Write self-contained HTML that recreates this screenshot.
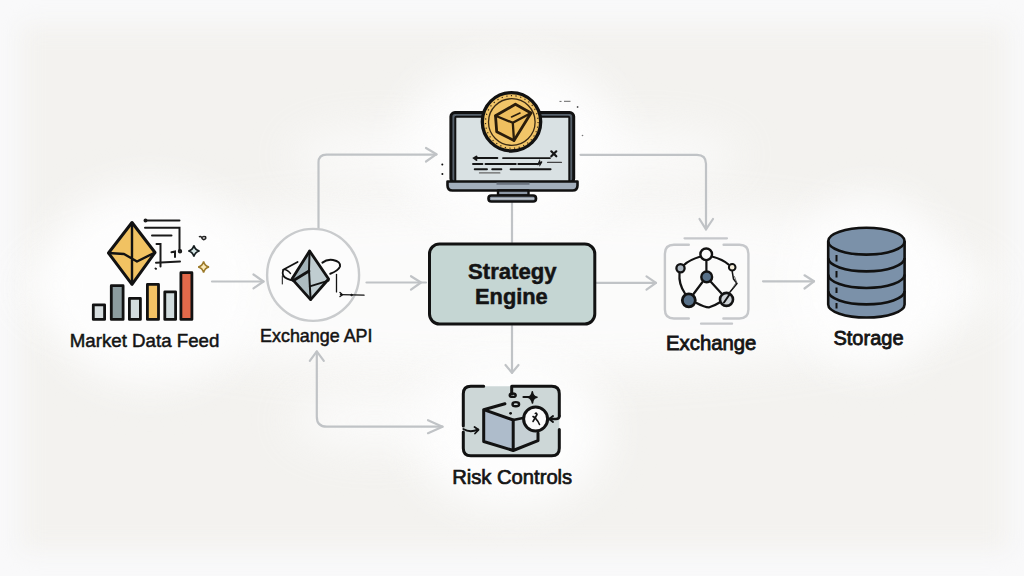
<!DOCTYPE html>
<html><head><meta charset="utf-8">
<style>
html,body{margin:0;padding:0;width:1024px;height:576px;overflow:hidden;background:#f9f9fa;}
#card{position:absolute;left:21px;top:25px;width:987px;height:525px;background:#f3f2ef;filter:blur(11px);}
.h{position:absolute;background:#fdfdfd;border-radius:50%;filter:blur(22px);}
svg{position:absolute;left:0;top:0;}
text{font-family:"Liberation Sans",sans-serif;fill:#141414;}
</style></head><body>
<div id="card"></div>
<div class="h" style="left:25px;top:200px;width:975px;height:175px;opacity:0.85"></div>
<div class="h" style="left:400px;top:60px;width:225px;height:175px;"></div>
<div class="h" style="left:410px;top:350px;width:200px;height:160px;"></div>
<div class="h" style="left:40px;top:185px;width:220px;height:200px;"></div>
<div class="h" style="left:790px;top:195px;width:160px;height:175px;"></div>
<div class="h" style="left:290px;top:130px;width:180px;height:50px;opacity:0.8"></div>
<div class="h" style="left:560px;top:130px;width:180px;height:50px;opacity:0.8"></div>
<div class="h" style="left:290px;top:390px;width:170px;height:60px;opacity:0.8"></div>
<svg width="1024" height="576" viewBox="0 0 1024 576">
<!-- connectors -->
<g fill="none" stroke="#c0c3c6" stroke-width="2.2" stroke-linecap="round" stroke-linejoin="round">
  <path d="M212 281.5H263.5"/><path d="M253.5 274.5L263.5 281.5L253.5 288.3"/>
  <path d="M366.5 282.5H426"/><path d="M411 276.2L421 282.5L411 289.6"/>
  <path d="M596.5 282.8H656"/><path d="M646.5 276.3L656 282.8L646.5 289.6"/>
  <path d="M763 281.3H814"/><path d="M804.5 275.3L814 281.3L804.5 288.5"/>
  <path d="M318.5 229V162.5Q318.5 154.6 326.5 154.6H436.5"/><path d="M426 148L436.5 154.2L426 161.5"/>
  <path d="M580.5 154.8H697Q706 154.8 706 163.8V229.4"/><path d="M699.5 219L706 229.4L713 219"/>
  <path d="M512 202.5V242"/>
  <path d="M512 326V372.8"/><path d="M505.5 365L512 372.8L518.5 365"/>
  <path d="M316.8 351.5V416.7Q316.8 426.7 326.8 426.7H442.5"/><path d="M428 420.2L442.5 426.7L428 433.2"/><path d="M309.8 360.8L316.8 351.3L323.8 360.8"/>
</g>

<!-- Market Data Feed icon -->
<g stroke="#121212" stroke-width="2.8" stroke-linejoin="round">
  <rect x="93.3" y="304.8" width="11.3" height="14.6" fill="#d6dddf"/>
  <rect x="111.3" y="285.7" width="11.8" height="33.7" fill="#8c9c9f"/>
  <rect x="129.4" y="298.4" width="11" height="21" fill="#d2dcde"/>
  <rect x="147.4" y="284.4" width="11.1" height="35" fill="#f2c265"/>
  <rect x="164.8" y="291.8" width="10.8" height="27.6" fill="#d0dbdd"/>
  <rect x="180.9" y="272.7" width="11" height="46.7" fill="#e2694a"/>
  <path d="M132 222.5L155 252.5L132 284.3L108.5 253Z" fill="#f1c262" stroke-width="3"/>
  <path d="M132 222.5V284.3M108.5 253L124 254L137 261.5L155 252.5" fill="none" stroke-width="2.4"/>
</g>
<g fill="none" stroke="#1a1a1a" stroke-width="2" stroke-linecap="round">
  <path d="M145 220.4H179.5"/><circle cx="145.5" cy="220.4" r="1" fill="#1a1a1a"/>
  <path d="M145 227.8H179.5V250"/><circle cx="180" cy="251.3" r="1.2"/>
  <path d="M152 235.4H171.5"/>
  <path d="M156.5 244H160.5V266.5"/>
  <path d="M156 262.8L180 261.5"/>
  <path d="M171.5 252.3L175 251.5V257"/>
  <path d="M155.5 268.5L156 268.8"/>
</g>
<path d="M193.9 245.5Q195 250 199.5 251Q195 252 193.9 256.5Q192.8 252 188.4 251Q192.8 250 193.9 245.5Z" fill="#d5e6e6" stroke="#141c1e" stroke-width="1.7"/>
<path d="M203.6 261.5Q204.7 266 209 267Q204.7 268 203.6 272.6Q202.5 268 198.2 267Q202.5 266 203.6 261.5Z" fill="#fbeab9" stroke="#9c7a2a" stroke-width="1.5"/>
<path d="M199 237Q200.5 235.8 201.8 237.6Q203 235.8 205.5 236.8Q206.5 239.2 203.8 239.6Q202.2 239.2 201.8 238" fill="none" stroke="#222" stroke-width="1.6"/>

<!-- Exchange API icon -->
<circle cx="313.1" cy="274.9" r="46" fill="#fcfcfc" stroke="#c9cbcd" stroke-width="2.4"/>
<g stroke="#121212" stroke-linejoin="round" stroke-linecap="round">
  <path d="M309.6 251L292 278.9L310.6 299.6L328.6 279Z" fill="#c0cdd1" stroke-width="0"/>
  <path d="M309.6 251L309 270.5L294.5 280L292 278.9Z" fill="#a3b3b9" stroke-width="0"/>
  <path d="M292 278.9L310.6 299.6L309.8 286L309 270.5L294.5 280Z" fill="#adbcc1" stroke-width="0"/>
  <path d="M297.6 262L283.2 269.8Q281.2 276.5 287 278.6Q290.5 280 293 280.5" fill="none" stroke-width="1.8"/>
  <path d="M283.2 269.8Q286 268.5 290.5 273.5" fill="none" stroke-width="1.4"/>
  <path d="M282.3 276V284" fill="none" stroke-width="1"/>
  <path d="M309.6 251L292 278.9L310.6 299.6L328.6 279Z" fill="none" stroke-width="2.8"/>
  <path d="M309.6 251L309 270.5L310.6 299.6" fill="none" stroke-width="2"/>
  <path d="M309 271L293.5 280.5" fill="none" stroke-width="2.8"/>
  <path d="M309.8 286.3L328.6 280.6" fill="none" stroke-width="1.9"/>
  <path d="M322.4 262.6Q327 259 333 260Q341 261.5 340 266.5Q338.5 270.5 330.3 273.8" fill="none" stroke-width="2"/>
  <path d="M336.5 274.4V291.9" fill="none" stroke-width="1.3"/>
  <path d="M340.4 294.7L364.1 295.2" fill="none" stroke-width="1.2"/>
  <path d="M340 292.5L342.5 294.7L340 296.5" fill="none" stroke-width="1.4"/>
  <circle cx="351.5" cy="295" r="0.8" fill="#121212" stroke-width="0.8"/>
</g>

<!-- Laptop -->
<g stroke="#111" stroke-linejoin="round">
  <rect x="450.9" y="112.6" width="122.8" height="70" rx="4" fill="#56606a" stroke="#111" stroke-width="3"/>
  <rect x="455.3" y="116.8" width="114" height="66" rx="1" fill="#d9e1e3" stroke="#111" stroke-width="2"/>
  <path d="M447.5 181.5H577.5V185.5Q577.5 190.5 572.5 190.5H452.5Q447.5 190.5 447.5 185.5Z" fill="#a2aebb" stroke-width="2.6"/>
  <rect x="496.5" y="182.6" width="33" height="2.2" fill="#6b7480" stroke-width="0"/>
  <rect x="498" y="190.5" width="30.5" height="5" fill="#8d98a6" stroke-width="2.4"/>
  <rect x="488.5" y="195.5" width="47.5" height="6" rx="2.8" fill="#8d98a6" stroke-width="2.6"/>
  <path d="M491 198.8H534" stroke="#d4d9de" stroke-width="0.9"/>
</g>
<g stroke="#151515" stroke-linecap="round" fill="none">
  <path d="M475 158.1H497.3" stroke-width="2"/><path d="M476.5 156.5L474 158.1L476.5 160" stroke-width="2"/>
  <path d="M503 158.1H550" stroke-width="1.9"/>
  <path d="M551.3 151.3L556.3 156.3M556.3 151.3L551.3 156.3" stroke-width="2.2"/>
  <path d="M473 164H482.4M485.5 164H515.8M518.3 164H538" stroke-width="1.9"/>
  <path d="M538 164.5L539.5 161.5L540 164.5L541.5 162" stroke-width="1.6"/>
  <path d="M547.6 162.4H561.4" stroke-width="1.3" stroke="#444"/>
  <path d="M474.7 169.3H487M492.2 169.3H501.4M510.6 169.3H550.6" stroke-width="1.9"/>
  <path d="M479.4 172.9H499.9" stroke-width="1.1" stroke="#666"/>
</g>
<circle cx="442.3" cy="164.4" r="1" fill="#111"/><circle cx="442.4" cy="174" r="1" fill="#111"/>
<path d="M559.5 101.4H561.5M564 101.3H570.5" stroke="#666" stroke-width="1"/>
<circle cx="577.6" cy="107" r="0.9" fill="#555"/><circle cx="582.5" cy="135.5" r="0.8" fill="#777"/>
<!-- coin -->
<circle cx="511.5" cy="121.8" r="29.2" fill="#f2c568" stroke="#121212" stroke-width="3.3"/>
<circle cx="511.8" cy="122" r="23.3" fill="none" stroke="#3a2a14" stroke-width="1.3"/>
<circle cx="511.8" cy="122" r="26.3" fill="none" stroke="#3a2a14" stroke-width="1.2" stroke-dasharray="1.2 3.5"/>
<g stroke="#2a1d0c" stroke-linejoin="round" stroke-linecap="round" fill="none">
  <path d="M515.4 104.2L531 113L514 140.5L496.7 131.7L495.5 115.8Z" fill="#efbf5f" stroke-width="2.8"/>
  <path d="M495.5 115.8L512.8 122.8L531 113M512.8 122.8L514 140.5" stroke-width="2.3"/>
  <path d="M511.5 117L520 113" stroke-width="1.6"/>
</g>

<!-- Exchange icon -->
<g fill="none" stroke="#c6c8cb" stroke-width="2.4" stroke-linecap="round">
  <path d="M688.8 244.7H673.9Q664.9 244.7 664.9 253.7V309.5Q664.9 318.5 673.9 318.5H688.8"/>
  <path d="M723.6 244.7H739.4Q748.4 244.7 748.4 253.7V309.5Q748.4 318.5 739.4 318.5H723.4"/>
  <path d="M684.5 238.3H727" stroke-width="2.2"/>
  <path d="M701 323.7H732.1" stroke-width="2.2"/>
</g>
<g stroke="#121212" stroke-linejoin="round" stroke-linecap="round" fill="none" stroke-width="2.2">
  <path d="M700.5 256.5Q689 260 684 265M712 256.5Q723 259.5 728.5 264.5"/>
  <path d="M706.4 261V270.5"/>
  <path d="M702.5 282L693.5 294M711 282L721.5 293.5"/>
  <path d="M679.5 273.5Q678.5 284 685 293.5"/>
  <path d="M696.5 303Q705 307.5 709.3 307.3Q715 305.5 719.5 302.5"/>
  <path d="M732.2 271.5L733.5 279L737 283.5L730 292" stroke-width="1.5"/>
  <path d="M734.5 276.5L736.5 282L733 287.5" stroke-width="0.9" stroke="#666"/>
  <circle cx="706.2" cy="254.3" r="5.8" fill="#fbfbfb" stroke-width="2.4"/>
  <circle cx="680.5" cy="268.2" r="4.1" fill="#a9b4be" stroke-width="2.3"/>
  <circle cx="706.7" cy="276.9" r="5.4" fill="#587189" stroke-width="2.4"/>
  <circle cx="732.2" cy="267.3" r="3.3" fill="#f6efdc" stroke-width="2"/>
  <circle cx="688.8" cy="300.3" r="6.5" fill="#587189" stroke-width="2.8"/>
  <circle cx="726.5" cy="299.4" r="6.5" fill="#cdd2d6" stroke-width="2.6"/>
  <path d="M724 302.5L729.5 294.5" stroke-width="2"/>
</g>

<!-- Storage -->
<g stroke="#111" stroke-width="2.6" stroke-linejoin="round">
  <path d="M828.2 241.2A38.2 13.4 0 0 1 904.6 241.2V304.5A38.2 13 0 0 1 828.2 304.5Z" fill="#7b91a9"/>
  <path d="M828.2 241.2A38.2 13.4 0 0 0 904.6 241.2" fill="none"/>
  <path d="M828.2 258A38.2 13.4 0 0 0 904.6 258M828.2 274.6A38.2 13.4 0 0 0 904.6 274.6M828.2 291A38.2 13.4 0 0 0 904.6 291" fill="none"/>
  <path d="M836.5 255V261.5M836.5 271V277.5M836.5 287.5V293M836.5 303V308.5" fill="none" stroke-width="2"/>
</g>

<!-- Risk Controls icon -->
<g stroke="#121212" stroke-linejoin="round" stroke-linecap="round">
  <rect x="463.3" y="386.3" width="96" height="69.5" rx="7.5" fill="#cdd7d7" stroke-width="0"/>
  <path d="M483.7 386.3H470.8Q463.3 386.3 463.3 393.8V426M463.3 432V448.3Q463.3 455.8 470.8 455.8H551.8Q559.3 455.8 559.3 448.3V429.5M559.3 416V393.8Q559.3 386.3 551.8 386.3H511.7V394" fill="none" stroke-width="3"/>
  <path d="M559.3 416Q559.3 419 556 419H549" fill="none" stroke-width="2.6"/>
  <path d="M553 416L549.2 419L553 422" fill="none" stroke-width="2"/>
  <path d="M463.3 429Q470 433 478 429.5" fill="none" stroke-width="2"/>
  <path d="M474.5 427L478.5 429.8L475 433.5" fill="none" stroke-width="1.8"/>
  <path d="M483.7 410L513.2 421V450.5L483.7 441.5Z" fill="#aebccb" stroke-width="0"/>
  <path d="M513.2 421L538 413V440.7L513.2 450.5Z" fill="#c6d0d4" stroke-width="0"/>
  <path d="M504.9 403.7L483.7 409.7V441.5L513.2 450.5L538 440.7V433M483.7 409.7L513.2 420V450.5" fill="none" stroke-width="3"/>
  <path d="M513.2 420L523 418" fill="none" stroke-width="2.6"/>
  <ellipse cx="512.7" cy="395.2" rx="3" ry="1.7" fill="none" stroke-width="2.4"/>
  <ellipse cx="515.8" cy="404.2" rx="3.3" ry="2.1" fill="none" stroke-width="2.4"/>
  <circle cx="510.6" cy="413.3" r="1.4" fill="#121212" stroke-width="0"/>
  <path d="M523.5 397H529" fill="none" stroke-width="2.2"/>
  <path d="M532.3 391.8Q532.8 396.6 537 397.2Q532.8 397.8 532.5 403Q531.5 398 527.8 397.2Q531.8 396.6 532.3 391.8Z" fill="#121212" stroke-width="1.6"/>
  <circle cx="535.6" cy="419" r="12" fill="#fbfbfb" stroke-width="3"/>
  <path d="M535.3 413.5Q536.5 412.5 537 414.5L533 421.5M534.5 417L538 421.5L539.5 424.5M536 418.5L533 416.5" fill="none" stroke-width="1.6"/>
</g>

<!-- Strategy Engine -->
<rect x="429.5" y="243.9" width="165.3" height="80.2" rx="10" fill="#c5d6d3" stroke="#121212" stroke-width="3"/>
<text x="512.3" y="279" font-size="22.1" font-weight="bold" text-anchor="middle" stroke="#141414" stroke-width="0.5">Strategy</text>
<text x="511.4" y="304.2" font-size="21.8" font-weight="bold" text-anchor="middle" stroke="#141414" stroke-width="0.5">Engine</text>

<!-- labels -->
<text x="144.6" y="346.6" font-size="18.7" text-anchor="middle" stroke="#141414" stroke-width="0.5">Market Data Feed</text>
<text x="316.3" y="342.3" font-size="17.9" text-anchor="middle" stroke="#141414" stroke-width="0.5">Exchange API</text>
<text x="711.2" y="349.9" font-size="20.3" text-anchor="middle" stroke="#141414" stroke-width="0.8">Exchange</text>
<text x="868.5" y="344.8" font-size="20" text-anchor="middle" stroke="#141414" stroke-width="0.8">Storage</text>
<text x="512.2" y="483.7" font-size="20.2" text-anchor="middle" stroke="#141414" stroke-width="0.7">Risk Controls</text>
</svg>
</body></html>
